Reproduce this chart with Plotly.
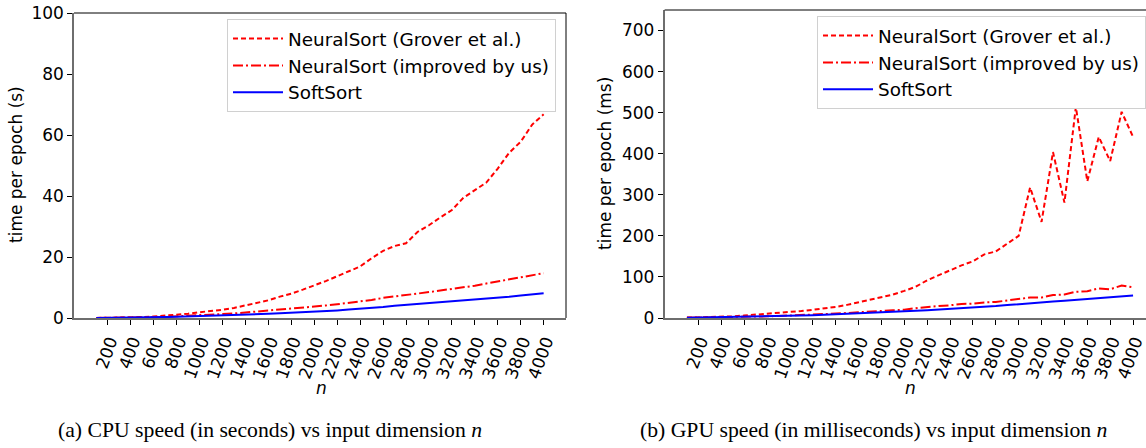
import plotly.graph_objects as go

n_values = [100, 200, 300, 400, 500, 600, 700, 800, 900, 1000,
            1100, 1200, 1300, 1400, 1500, 1600, 1700, 1800, 1900, 2000,
            2100, 2200, 2300, 2400, 2500, 2600, 2700, 2800, 2900, 3000,
            3100, 3200, 3300, 3400, 3500, 3600, 3700, 3800, 3900, 4000]

cpu_grover = [0.02, 0.05, 0.1, 0.2, 0.3, 0.5, 0.75, 1.0, 1.4, 1.9,
              2.2, 2.7, 3.3, 4.2, 4.9, 5.8, 7.0, 8.0, 9.3, 10.6,
              12.1, 13.7, 15.4, 16.9, 19.6, 22.0, 23.6, 24.5, 28.2, 30.4,
              33.0, 35.4, 39.4, 42.0, 44.4, 49.0, 54.2, 57.8, 63.4, 66.8]
cpu_improved = [0.01, 0.03, 0.07, 0.12, 0.2, 0.3, 0.4, 0.55, 0.7, 0.9,
                1.1, 1.3, 1.5, 1.8, 2.1, 2.4, 2.7, 3.0, 3.4, 3.7,
                4.1, 4.5, 4.9, 5.3, 5.9, 6.6, 7.0, 7.6, 8.0, 8.5,
                9.0, 9.5, 10.0, 10.6, 11.3, 12.0, 12.7, 13.3, 14.0, 14.7]
cpu_softsort = [0.01, 0.03, 0.05, 0.1, 0.15, 0.2, 0.3, 0.4, 0.5, 0.6,
                0.7, 0.8, 0.95, 1.1, 1.25, 1.4, 1.55, 1.7, 1.9, 2.1,
                2.3, 2.5, 2.75, 3.0, 3.3, 3.6, 4.0, 4.3, 4.5, 4.7,
                5.1, 5.4, 5.7, 6.0, 6.3, 6.6, 7.0, 7.4, 7.7, 8.1]

gpu_grover = [1, 1.5, 2, 3, 4, 6, 8, 10, 12, 14,
              17, 20, 23, 27, 32, 38, 44, 51, 57, 66,
              76, 92, 104, 116, 128, 138, 155, 162, 182, 200,
              318, 234, 404, 281, 514, 333, 441, 382, 502, 441]
gpu_improved = [0.8, 1, 1.5, 2, 2.5, 3, 3.5, 4, 5, 6,
                7, 8, 9, 10.5, 12, 14, 15, 17, 19, 20,
                24, 27, 29, 31, 34, 35, 38, 39, 43, 46,
                50, 50, 56, 57, 64, 65, 72, 70, 79, 75]
gpu_softsort = [0.5, 1, 1.2, 1.5, 2, 2.5, 3, 3.5, 4, 5,
                6, 7, 8, 9, 10, 11, 12, 13, 14.5, 16,
                17.5, 19, 20.5, 22, 24, 26, 27.5, 29, 31.5, 34,
                36, 38, 40, 42, 44, 46, 48.5, 51, 53, 55]

x_ticks = [200, 400, 600, 800, 1000, 1200, 1400, 1600, 1800, 2000,
           2200, 2400, 2600, 2800, 3000, 3200, 3400, 3600, 3800, 4000]
cpu_yticks = [0, 20, 40, 60, 80, 100]
gpu_yticks = [0, 100, 200, 300, 400, 500, 600, 700]

series_names = ["NeuralSort (Grover et al.)", "NeuralSort (improved by us)", "SoftSort"]
captions = ["(a) CPU speed (in seconds) vs input dimension <i>n</i>",
            "(b) GPU speed (in milliseconds) vs input dimension <i>n</i>"]
y_titles = ["time per epoch (s)", "time per epoch (ms)"]

# The page body margin is removed (see post_script), so the figure fills the window
W, H = 1146, 448
MB = 130
PH = H - MB  # plot area height in px


def wx(p):
    """window x pixel -> paper x"""
    return p / W


def wy(p):
    """window y pixel -> paper y"""
    return (PH - p) / PH


FONT = "DejaVu Sans"
FS = 17
LEG_FS = 18.4

styles = [dict(color="red", dash="5px,3px", width=2),
          dict(color="red", dash="10px,3px,2px,3px", width=2),
          dict(color="blue", dash="solid", width=2)]

fig = go.Figure()

cpu_sets = [cpu_grover, cpu_improved, cpu_softsort]
gpu_sets = [gpu_grover, gpu_improved, gpu_softsort]

for name, ys, st in zip(series_names, cpu_sets, styles):
    fig.add_trace(go.Scatter(x=n_values, y=ys, mode="lines", name=name, line=st,
                             xaxis="x", yaxis="y", legend="legend"))
for name, ys, st in zip(series_names, gpu_sets, styles):
    fig.add_trace(go.Scatter(x=n_values, y=ys, mode="lines", name=name, line=st,
                             xaxis="x2", yaxis="y2", legend="legend2"))

axis_common = dict(
    showgrid=False, zeroline=False, ticks="outside", ticklen=5, tickwidth=1,
    tickcolor="black", tickfont=dict(family=FONT, size=FS, color="black"),
    showline=True, linewidth=1.5, linecolor="#6e6e6e", automargin=False,
    ticklabeloverflow="allow",
)

xaxis_common = dict(axis_common, tickvals=x_ticks, ticktext=[str(t) for t in x_ticks],
                    tickangle=-70, ticklabelshift=2)

legend_common = dict(xanchor="right", yanchor="top", bgcolor="white",
                     bordercolor="#d0d0d0", borderwidth=1,
                     font=dict(family=FONT, size=LEG_FS, color="black"), itemwidth=50)

fig.update_layout(
    width=W, height=H,
    margin=dict(l=0, r=0, t=0, b=MB),
    paper_bgcolor="white", plot_bgcolor="white",
    font=dict(family=FONT, size=FS, color="black"),
    xaxis=dict(xaxis_common, domain=[wx(74), wx(566)], range=[-95, 4195], anchor="y"),
    yaxis=dict(axis_common, domain=[0, wy(13)], range=[0, 100], tickvals=cpu_yticks, anchor="x"),
    xaxis2=dict(xaxis_common, domain=[wx(664.6), 1.0], range=[-95, 4113], anchor="y2"),
    yaxis2=dict(axis_common, domain=[0, wy(10)], range=[0, 750], tickvals=gpu_yticks, anchor="x2"),
    legend=dict(legend_common, x=wx(556), y=wy(19)),
    legend2=dict(legend_common, x=1.0, y=wy(16)),
    showlegend=True,
)

# top / right frame lines (black, as in matplotlib spines)
fig.add_shape(type="line", xref="paper", yref="paper", x0=wx(74), x1=wx(566),
              y0=wy(13), y1=wy(13), line=dict(color="black", width=1))
fig.add_shape(type="line", xref="paper", yref="paper", x0=wx(566), x1=wx(566),
              y0=0, y1=wy(13), line=dict(color="black", width=1))
fig.add_shape(type="line", xref="paper", yref="paper", x0=wx(664.6), x1=1.0,
              y0=wy(10), y1=wy(10), line=dict(color="black", width=1))

# axis titles
for cx, title in [(321, "<i>n</i>"), (910, "<i>n</i>")]:
    fig.add_annotation(xref="paper", yref="paper", x=wx(cx), y=wy(388),
                       text=title, showarrow=False, font=dict(family=FONT, size=FS),
                       xanchor="center", yanchor="middle")
for cx, cy, title in [(16, 165, y_titles[0]), (605, 164, y_titles[1])]:
    fig.add_annotation(xref="paper", yref="paper", x=wx(cx), y=wy(cy),
                       text=title, showarrow=False, textangle=-90,
                       font=dict(family=FONT, size=FS),
                       xanchor="center", yanchor="middle")

# captions
for cx, cap in [(270, captions[0]), (873, captions[1])]:
    fig.add_annotation(xref="paper", yref="paper", x=wx(cx), y=wy(430),
                       text=cap, showarrow=False,
                       font=dict(family="Liberation Serif", size=21.7, color="black"),
                       xanchor="center", yanchor="middle")

fig.write_html(
    "out.html",
    config={"displayModeBar": False},
    post_script="document.body.style.margin='0';"
                "document.documentElement.style.overflow='hidden';",
)
